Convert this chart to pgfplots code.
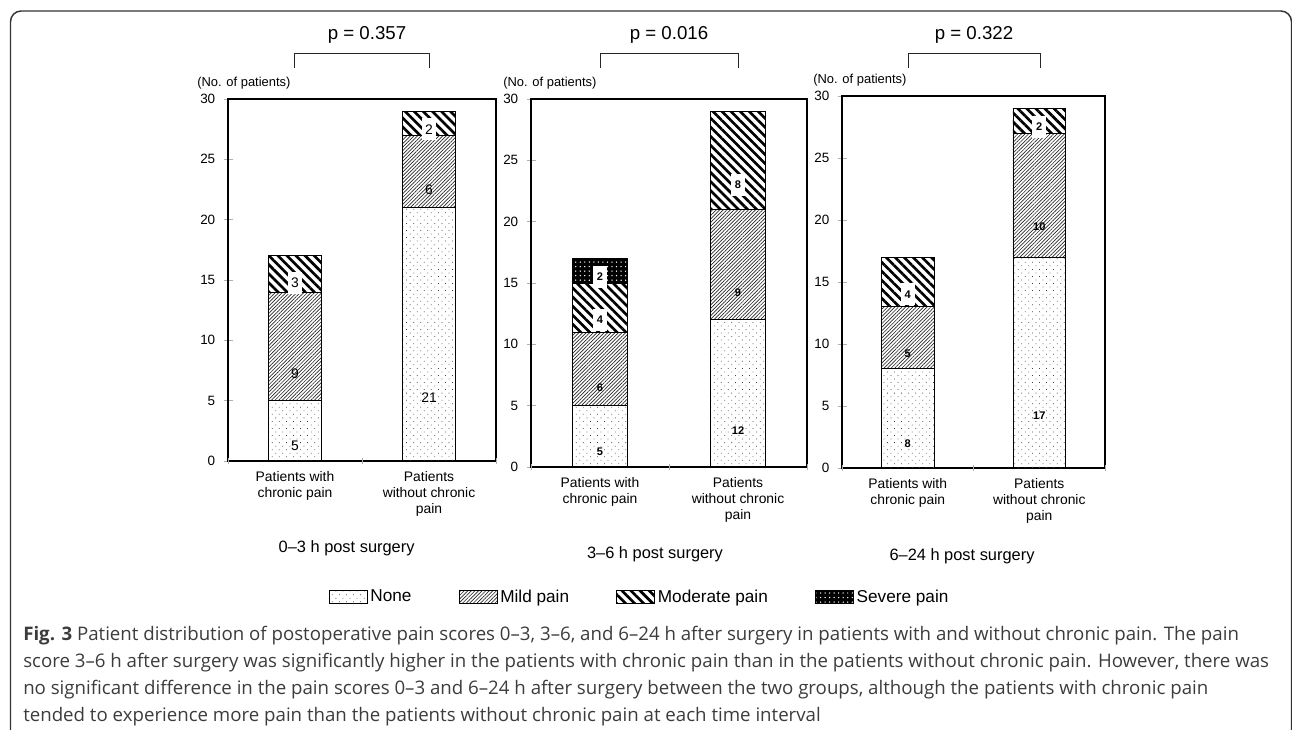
\documentclass[border=0pt]{standalone}
\usepackage{pgfplots}
\pgfplotsset{compat=1.18}
\usetikzlibrary{patterns.meta}
\usepackage{fontspec}
\setmainfont{Liberation Sans}
\newfontfamily\capfont{Open Sans}
\definecolor{capgray}{HTML}{3C3C3C}
\definecolor{tickgray}{HTML}{B0B0B0}

\pgfkeys{/pgf/number format/assume math mode=true}
\pgfplotsset{
  panel/.style={
    ybar stacked,
    scale only axis,
    bar width=0.4,
    xmin=-0.5, xmax=1.5,
    ymin=0, ymax=30,
    clip=false,
    /pgf/number format/assume math mode=true,
    axis line style={black, line width=0.8pt},
    ytick={0,5,...,30},
    xtick={0,1},
    tick pos=left,
    xticklabels={{Patients with\\chronic pain},{Patients\\without chronic\\pain}},
    xticklabel style={align=center, font=\fontsize{10.4}{12}\selectfont, anchor=north, inner sep=0pt, yshift=-4pt},
    yticklabel style={font=\fontsize{10.1}{12}\selectfont, anchor=east, inner sep=0pt, xshift=-6pt},
    tick align=center,
    major tick length=6.75pt,
    ytick style={draw=tickgray, line width=0.6pt},
    xtick style={draw=none},
    extra x ticks={-0.5,0.5,1.5},
    extra x tick labels={},
    extra x tick style={xtick style={draw=tickgray, line width=0.6pt}, major tick length=5pt},
    legend image code/.code={\draw[##1] (0pt,-4.9pt) rectangle (28.5pt,4.9pt);},
  },
  pNone/.style={draw=black, line width=0.6pt, pattern={Dots[distance=3.75pt, angle=45, radius=0.4pt]}, pattern color=black!75},
  pMild/.style={draw=black, line width=0.6pt, pattern={Lines[angle=45, distance=1.9pt, line width=0.5pt]}, pattern color=black!85},
  pMod/.style={draw=black, line width=0.6pt, pattern={Lines[angle=-45, distance=4.8pt, line width=2pt]}, pattern color=black},
  pSev/.style={draw=black, line width=0.6pt, fill=black, postaction={pattern={Dots[distance=3.4pt, radius=0.55pt]}, pattern color=white}},
  seglab/.style={
    visualization depends on=rawy \as \rawy,
    nodes near coords={\pgfmathprintnumber{\rawy}},
    nodes near coords style={anchor=center, shift={(axis direction cs:0,-\rawy/4)}, font=#1},
  },
  boxlab/.style={nodes near coords style={fill=white, inner sep=0pt, minimum width=10.5pt, minimum height=16.5pt}},
}

\begin{document}
\begin{tikzpicture}[x=0.75pt, y=0.75pt]
\useasboundingbox (0,0) rectangle (1292,729);

% frame
\draw[line width=1.1pt, draw=black!80, rounded corners=8pt] (10.5,-10) -- (10.5,718) -- (1291.5,718) -- (1291.5,-10);

% ---------------- panel 1
\begin{axis}[panel, at={(171pt,201pt)}, anchor=south west, width=201pt, height=271.5pt]
\addplot[pNone, seglab={\fontsize{10.4}{12}\selectfont}] coordinates {(0,5) (1,21)};
\addplot[pMild, seglab={\fontsize{10.4}{12}\selectfont}] coordinates {(0,9) (1,6)};
\addplot[pMod, seglab={\fontsize{10.4}{12}\selectfont}, boxlab] coordinates {(0,3) (1,2)};
\node[anchor=west, inner sep=0pt, font=\fontsize{9.7}{11}\selectfont, xshift=-23.25pt, yshift=12pt] at (rel axis cs:0,1) {(No. of patients)};
\end{axis}

% ---------------- panel 2
\begin{axis}[panel, at={(398.25pt,196.5pt)}, anchor=south west, width=207pt, height=276pt,
  legend style={at={(0.395,-0.353)}, anchor=center, draw=none, legend columns=4,
    font=\fontsize{12.9}{15}\selectfont, /tikz/every even column/.append style={column sep=33.5pt}},
  legend cell align=left]
\addplot[pNone, seglab={\bfseries\fontsize{8.3}{10}\selectfont}] coordinates {(0,5) (1,12)};
\addplot[pMild, seglab={\bfseries\fontsize{8.3}{10}\selectfont}] coordinates {(0,6) (1,9)};
\addplot[pMod, seglab={\bfseries\fontsize{8.3}{10}\selectfont}, boxlab] coordinates {(0,4) (1,8)};
\addplot[pSev, seglab={\bfseries\fontsize{8.3}{10}\selectfont}, boxlab] coordinates {(0,2)};
\legend{None, Mild pain, Moderate pain, Severe pain}
\node[anchor=west, inner sep=0pt, font=\fontsize{9.7}{11}\selectfont, xshift=-21pt, yshift=12pt] at (rel axis cs:0,1) {(No. of patients)};
\end{axis}

% ---------------- panel 3
\begin{axis}[panel, at={(631.5pt,195.75pt)}, anchor=south west, width=197.25pt, height=279pt]
\addplot[pNone, seglab={\bfseries\fontsize{8.3}{10}\selectfont}] coordinates {(0,8) (1,17)};
\addplot[pMild, seglab={\bfseries\fontsize{8.3}{10}\selectfont}] coordinates {(0,5) (1,10)};
\addplot[pMod, seglab={\bfseries\fontsize{8.3}{10}\selectfont}, boxlab] coordinates {(0,4) (1,2)};
\node[anchor=west, inner sep=0pt, font=\fontsize{9.7}{11}\selectfont, xshift=-21.75pt, yshift=12pt] at (rel axis cs:0,1) {(No. of patients)};
\end{axis}

% p-values and brackets
\foreach \a/\b/\c/\t in {294/429/367/0.357, 600/738/669/0.016, 908/1040/974/0.322}{
  \draw[line width=0.6pt, black!85] (\a,661) -- (\a,676) -- (\b,676) -- (\b,661);
  \node[font=\fontsize{14}{16}\selectfont] at (\c,694) {p = \t};
}

% subtitles
\node[font=\fontsize{12.3}{14}\selectfont] at (346.6,181) {0–3 h post surgery};
\node[font=\fontsize{12.3}{14}\selectfont] at (655,175) {3–6 h post surgery};
\node[font=\fontsize{12.3}{14}\selectfont] at (962,173) {6–24 h post surgery};

% caption
\begin{scope}[every node/.style={anchor=base west, inner sep=0pt, text=capgray, font=\capfont\fontsize{14}{16}\selectfont}]
\node at (23,89) {\textbf{Fig. 3} Patient distribution of postoperative pain scores 0–3, 3–6, and 6–24 h after surgery in patients with and without chronic pain. The pain};
\node at (23,62) {score 3–6 h after surgery was significantly higher in the patients with chronic pain than in the patients without chronic pain. However, there was};
\node at (23,35) {no significant difference in the pain scores 0–3 and 6–24 h after surgery between the two groups, although the patients with chronic pain};
\node at (23,8) {tended to experience more pain than the patients without chronic pain at each time interval};
\end{scope}
\end{tikzpicture}
\end{document}
